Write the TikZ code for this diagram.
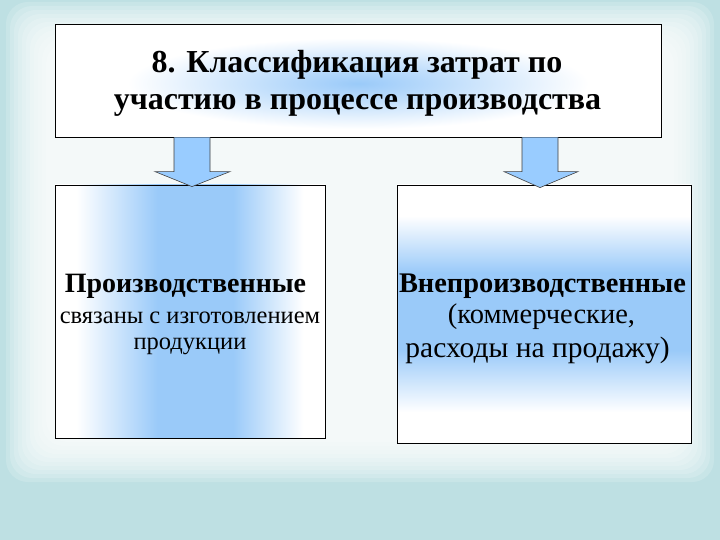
\documentclass[tikz,border=0pt]{standalone}
\usepackage{fontspec}
\setmainfont{Liberation Serif}
\newfontfamily\tnr{Liberation Serif}
\usetikzlibrary{calc}
\definecolor{bgteal}{HTML}{BEE0E3}
\definecolor{boxblue}{HTML}{9ACAF9}
\definecolor{arrowblue}{HTML}{99CCFF}
% TikZ maps the path onto the 25bp..75bp part of a linear shading
\pgfdeclarehorizontalshading{lshade}{100bp}{color(0bp)=(white); color(29bp)=(white); color(44bp)=(boxblue); color(58bp)=(boxblue); color(71bp)=(white); color(100bp)=(white)}
\pgfdeclareverticalshading{rshade}{100bp}{color(0bp)=(white); color(31bp)=(white); color(43bp)=(boxblue); color(58bp)=(boxblue); color(69bp)=(white); color(100bp)=(white)}
% and onto radius 25bp of a radial shading
\pgfdeclareradialshading{tglow}{\pgfpoint{0bp}{0bp}}{color(0bp)=(boxblue); color(5bp)=(boxblue!75!white); color(19bp)=(white); color(50bp)=(white)}
\tikzset{
  boxstyle/.style={draw=black, line width=0.8pt, inner sep=0pt},
  txt/.style={anchor=base, inner sep=0pt},
  barrow/.style={fill=arrowblue, draw=black!75, line width=0.6pt, line join=miter},
  glowlayer/.style={fill=white, fill opacity=0.17, rounded corners=22pt}
}
\begin{document}
\begin{tikzpicture}[x=1pt, y=-1pt]
\useasboundingbox (0,0) rectangle (720,540);
% background
\fill[bgteal] (0,0) rectangle (720,540);
\foreach \i in {0,...,10} {
  \fill[glowlayer] (6+4*\i, 2+4*\i) rectangle (714-4*\i, 482-4*\i);
}
% top box
\node[boxstyle, fill=white, minimum width=606pt, minimum height=113pt,
  path picture={\shade[shading=tglow] ($(path picture bounding box.center)+(0,3)$) ellipse (260pt and 60pt);}] (top) at (358,80.5) {};
\node[txt, font=\tnr\fontsize{32}{36}\selectfont\bfseries] (t1) at (357,73) {8. Классификация затрат по};
\node[txt, font=\tnr\fontsize{32}{36}\selectfont\bfseries] (t2) at (357.5,110) {участию в процессе производства};
% left box
\node[boxstyle, shade, shading=lshade, minimum width=270pt, minimum height=253pt] (lbox) at (190,311.5) {};
\node[txt, font=\tnr\fontsize{28}{30}\selectfont\bfseries] (l1) at (185.5,292) {Производственные};
\node[txt, font=\tnr\fontsize{24.5}{30}\selectfont] (l2) at (190,323) {связаны с изготовлением};
\node[txt, font=\tnr\fontsize{24.5}{30}\selectfont] (l3) at (190,349) {продукции};
% right box
\node[boxstyle, shade, shading=rshade, minimum width=294pt, minimum height=258pt] (rbox) at (544,314) {};
\node[txt, font=\tnr\fontsize{28.4}{30}\selectfont\bfseries] (r1) at (542.5,292) {Внепроизводственные};
\node[txt, font=\tnr\fontsize{28.5}{30}\selectfont] (r2) at (541.5,323) {(коммерческие,};
\node[txt, font=\tnr\fontsize{29.5}{30}\selectfont] (r3) at (537.5,357) {расходы на продажу)};
% arrows
\path (lbox.north) ++(2,2) coordinate (lt);
\path (rbox.north) ++(-4,3) coordinate (rt);
\draw[barrow] ($(top.south -| lt)+(-18,0)$) -- ($(lt)+(-18,-15)$) -- ($(lt)+(-37,-15)$) -- (lt)
  -- ($(lt)+(38,-15)$) -- ($(lt)+(18,-15)$) -- ($(top.south -| lt)+(18,0)$);
\draw[barrow] ($(top.south -| rt)+(-18,0)$) -- ($(rt)+(-18,-16)$) -- ($(rt)+(-36,-16)$) -- (rt)
  -- ($(rt)+(38,-16)$) -- ($(rt)+(18,-16)$) -- ($(top.south -| rt)+(18,0)$);
\end{tikzpicture}
\end{document}
